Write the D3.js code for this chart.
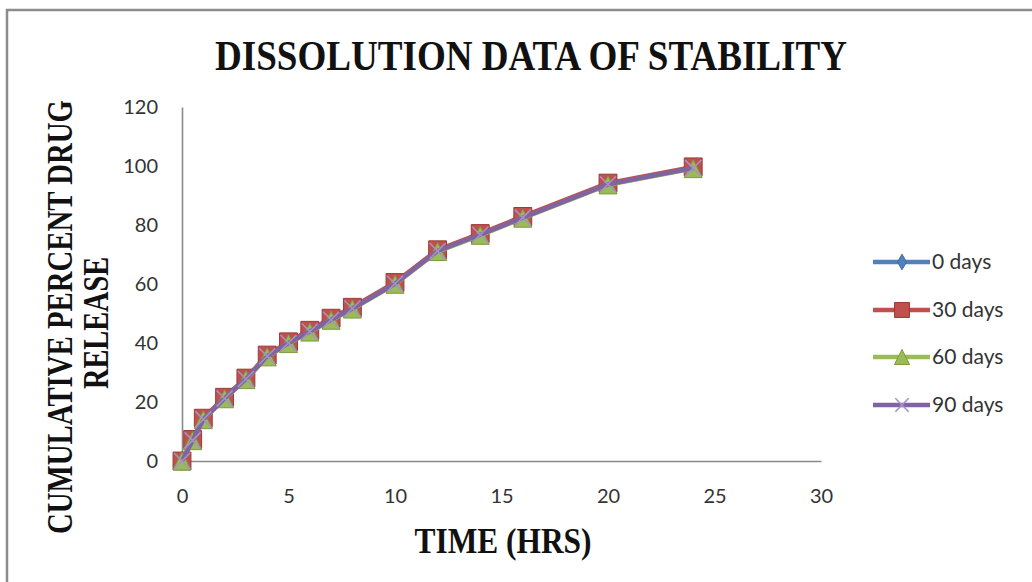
<!DOCTYPE html>
<html>
<head>
<meta charset="utf-8">
<script src="https://cdn.jsdelivr.net/npm/d3@7"></script>
<style>
  html, body { margin: 0; padding: 0; background: #fff; }
  svg { display: block; }
</style>
</head>
<body>
<svg id="chart" width="1032" height="582"></svg>
<script>
// ---- data ----
const timeHrs = [0, 0.5, 1, 2, 3, 4, 5, 6, 7, 8, 10, 12, 14, 16, 20, 24];
const days0  = [0, 7.1, 14.2, 21.3, 27.9, 35.6, 40.1, 44.0, 48.0, 51.8, 60.2, 71.3, 76.8, 82.6, 93.9, 99.4];
const days30 = [0, 7.3, 14.5, 21.6, 28.1, 35.9, 40.4, 44.3, 48.4, 52.1, 60.5, 71.6, 77.1, 82.9, 94.2, 99.7];
const days60 = [0, 6.9, 14.0, 21.1, 27.6, 35.3, 39.8, 43.7, 47.7, 51.5, 59.9, 71.0, 76.5, 82.3, 93.6, 99.1];
const days90 = [0, 7.0, 14.1, 21.2, 27.8, 35.5, 40.0, 43.9, 47.9, 51.7, 60.1, 71.2, 76.7, 82.5, 93.8, 99.3];
const seriesNames = ["0 days", "30 days", "60 days", "90 days"];
const xTicks = [0, 5, 10, 15, 20, 25, 30];
const yTicks = [0, 20, 40, 60, 80, 100, 120];

const seriesValues = [days0, days30, days60, days90];
const styles = [
  { color: "#4F81BD", marker: "diamond",  fill: "#4F81BD", stroke: "#3c6aa0" },
  { color: "#C0504D", marker: "square",   fill: "#C0504D", stroke: "#9b3b38" },
  { color: "#9BBB59", marker: "triangle", fill: "#9BBB59", stroke: "#7d9a40" },
  { color: "#8064A2", marker: "x",        fill: "none",    stroke: "#a593c4" }
];

const svg = d3.select("#chart");

// chart frame
svg.append("rect").attr("x", 7).attr("y", 10).attr("width", 1100).attr("height", 700)
  .attr("fill", "#fff").attr("stroke", "#8c8c8c").attr("stroke-width", 2.5);

const plotL = 182, plotR = 821, plotT = 107, plotB = 461;
const x = d3.scaleLinear().domain([0, 30]).range([plotL, plotR]);
const y = d3.scaleLinear().domain([0, 120]).range([plotB, plotT]);

// axes
const xAxis = svg.append("g").attr("transform", `translate(0,${plotB})`)
  .call(d3.axisBottom(x).tickValues(xTicks).tickSize(0).tickPadding(28));
const yAxis = svg.append("g").attr("transform", `translate(${plotL},0)`)
  .call(d3.axisLeft(y).tickValues(yTicks).tickSize(0).tickPadding(24));
[xAxis, yAxis].forEach(g => {
  g.select(".domain").attr("stroke", "#8a8a8a").attr("stroke-width", 1.6);
  g.selectAll("text").attr("font-family", "Lato, 'Open Sans', sans-serif")
    .attr("font-size", 20).attr("fill", "#333");
});

// marker paths
const symSize = { diamond: 100, square: 320, triangle: 200 };
function markerPath(type, s) {
  if (type === "diamond") return d3.symbol(d3.symbolDiamond, symSize.diamond * s)();
  if (type === "square") return d3.symbol(d3.symbolSquare, symSize.square * s)();
  if (type === "triangle") {
    const h = 9 * Math.sqrt(s);
    return `M0,${-h}L${h},${h}L${-h},${h}Z`;
  }
  const r = 8 * Math.sqrt(s);
  return `M${-r},${-r}L${r},${r}M${-r},${r}L${r},${-r}`;
}

const line = d3.line().x(d => x(d[0])).y(d => y(d[1]));

seriesValues.forEach((vals, i) => {
  const st = styles[i];
  const pts = timeHrs.map((t, j) => [t, vals[j]]);
  svg.append("path").datum(pts).attr("d", line)
    .attr("fill", "none").attr("stroke", st.color).attr("stroke-width", 4.5)
    .attr("stroke-linejoin", "round");
  svg.append("g").selectAll("path").data(pts).join("path")
    .attr("transform", d => `translate(${x(d[0])},${y(d[1])})`)
    .attr("d", markerPath(st.marker, 1))
    .attr("fill", st.fill).attr("stroke", st.stroke)
    .attr("stroke-width", st.marker === "x" ? 1.6 : 1);
});

// legend
const legY = [262, 310, 357, 405];
seriesNames.forEach((name, i) => {
  const st = styles[i];
  const g = svg.append("g").attr("transform", `translate(0,${legY[i]})`);
  g.append("line").attr("x1", 873).attr("x2", 930).attr("y1", 0).attr("y2", 0)
    .attr("stroke", st.color).attr("stroke-width", 4.5);
  g.append("path").attr("transform", "translate(902,0)")
    .attr("d", markerPath(st.marker, 0.7))
    .attr("fill", st.fill).attr("stroke", st.stroke)
    .attr("stroke-width", st.marker === "x" ? 1.6 : 1);
  g.append("text").attr("x", 932).attr("y", 0).attr("dy", "0.35em")
    .attr("font-family", "Lato, 'Open Sans', sans-serif").attr("font-size", 21)
    .attr("fill", "#333").text(name);
});

// titles
const serif = "'Liberation Serif', 'DejaVu Serif', serif";
svg.append("text").attr("x", 531).attr("y", 70).attr("text-anchor", "middle")
  .attr("font-family", serif).attr("font-weight", "bold").attr("font-size", 42)
  .attr("textLength", 632).attr("lengthAdjust", "spacingAndGlyphs")
  .attr("fill", "#111").text("DISSOLUTION DATA OF STABILITY");

svg.append("text").attr("x", 503).attr("y", 553).attr("text-anchor", "middle")
  .attr("font-family", serif).attr("font-weight", "bold").attr("font-size", 36)
  .attr("textLength", 177).attr("lengthAdjust", "spacingAndGlyphs")
  .attr("fill", "#111").text("TIME (HRS)");

svg.append("text").attr("transform", "translate(72,317) rotate(-90)").attr("text-anchor", "middle")
  .attr("font-family", serif).attr("font-weight", "bold").attr("font-size", 35)
  .attr("textLength", 434).attr("lengthAdjust", "spacingAndGlyphs")
  .attr("fill", "#111").text("CUMULATIVE PERCENT DRUG");

svg.append("text").attr("transform", "translate(108,323) rotate(-90)").attr("text-anchor", "middle")
  .attr("font-family", serif).attr("font-weight", "bold").attr("font-size", 35)
  .attr("textLength", 132).attr("lengthAdjust", "spacingAndGlyphs")
  .attr("fill", "#111").text("RELEASE");
</script>
</body>
</html>
